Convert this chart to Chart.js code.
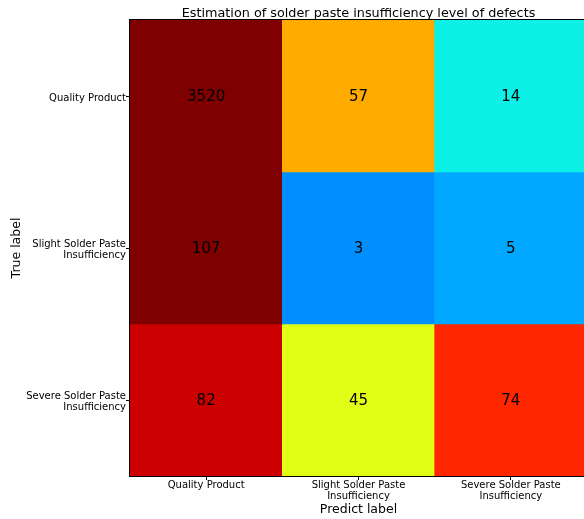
<!DOCTYPE html>
<html lang="en">
<head>
<meta charset="UTF-8">
<title>Confusion matrix</title>
<script src="https://cdn.jsdelivr.net/npm/chart.js@4"></script>
<style>
html, body { margin: 0; padding: 0; overflow: hidden; background: #fff; }
</style>
</head>
<body>
<canvas id="myChart" width="587" height="519"></canvas>
<script>
// class labels (predicted on x, true on y)
const predLabels = ['Quality Product', ['Slight Solder Paste', 'Insufficiency'], ['Severe Solder Paste', 'Insufficiency']];
const trueLabels = ['Quality Product', ['Slight Solder Paste', 'Insufficiency'], ['Severe Solder Paste', 'Insufficiency']];
// counts per true-label row
const rowQuality = [3520, 57, 14];
const rowSlight = [107, 3, 5];
const rowSevere = [82, 45, 74];
const rows = [rowQuality, rowSlight, rowSevere];

// jet colours as shown in the picture
const cellColors = [
  ['#7f0000', '#ffab00', '#0df0e8'],
  ['#7f0000', '#008fff', '#00a9ff'],
  ['#cc0000', '#e1ff16', '#ff2600']
];

Chart.defaults.font.family = 'DejaVu Sans';
Chart.defaults.color = '#000';

const cellText = {
  id: 'cellText',
  afterDatasetsDraw(chart) {
    const ctx = chart.ctx;
    ctx.save();
    ctx.font = '15px "DejaVu Sans"';
    ctx.fillStyle = '#000';
    ctx.textAlign = 'center';
    ctx.textBaseline = 'middle';
    chart.data.datasets.forEach((ds, i) => {
      chart.getDatasetMeta(i).data.forEach((bar, j) => {
        ctx.fillText(String(ds.counts[j]), bar.x, (bar.y + bar.base) / 2 + 1);
      });
    });
    ctx.restore();
  }
};

const frameAndTitle = {
  id: 'frameAndTitle',
  afterDraw(chart) {
    const ctx = chart.ctx;
    const a = chart.chartArea;
    ctx.save();
    ctx.strokeStyle = '#000';
    ctx.lineWidth = 1;
    ctx.strokeRect(Math.round(a.left) - 0.5, Math.round(a.top) - 0.5, a.right - a.left, a.bottom - a.top + 1);
    ctx.font = '12.8px "DejaVu Sans"';
    ctx.fillStyle = '#000';
    ctx.textAlign = 'center';
    ctx.textBaseline = 'alphabetic';
    ctx.fillText('Estimation of solder paste insufficiency level of defects', (a.left + a.right) / 2, a.top - 3);
    ctx.restore();
  }
};

const ctx = document.getElementById('myChart').getContext('2d');
new Chart(ctx, {
  type: 'bar',
  data: {
    labels: predLabels,
    datasets: rows.map((vals, i) => ({
      label: 'row' + i,
      counts: vals,
      data: vals.map(() => [i, i + 1]),
      backgroundColor: cellColors[i],
      borderWidth: 0,
      barPercentage: 1,
      categoryPercentage: 1,
      grouped: false
    }))
  },
  options: {
    responsive: false,
    animation: false,
    layout: { padding: { top: 20, left: 0, right: 0, bottom: 0 } },
    plugins: {
      legend: { display: false },
      tooltip: { enabled: false },
      title: { display: false }
    },
    scales: {
      x: {
        offset: true,
        grid: { display: true, drawOnChartArea: false, drawTicks: true, tickLength: 4, color: '#000', offset: false },
        border: { display: false },
        ticks: { font: { size: 10, lineHeight: 1.1 }, padding: 0, maxRotation: 0, autoSkip: false },
        title: { display: true, text: 'Predict label', font: { size: 12.5 }, padding: { top: 0, bottom: 1.5 } },
        afterFit(scale) { scale.height = 43; }
      },
      y: {
        min: 0,
        max: 3,
        reverse: true,
        grid: { display: true, drawOnChartArea: false, drawTicks: true, tickLength: 4, color: '#000' },
        border: { display: false },
        afterBuildTicks(scale) { scale.ticks = [0.5, 1.5, 2.5].map(v => ({ value: v })); },
        ticks: {
          font: { size: 10, lineHeight: 1.1 },
          padding: 0,
          labelOffset: 2,
          callback: (v) => trueLabels[Math.floor(v)]
        },
        title: { display: true, text: 'True label', font: { size: 12.5 }, padding: { top: 9, bottom: 0 } },
        afterFit(scale) { scale.width = 130; }
      }
    }
  },
  plugins: [cellText, frameAndTitle]
});
</script>
</body>
</html>
